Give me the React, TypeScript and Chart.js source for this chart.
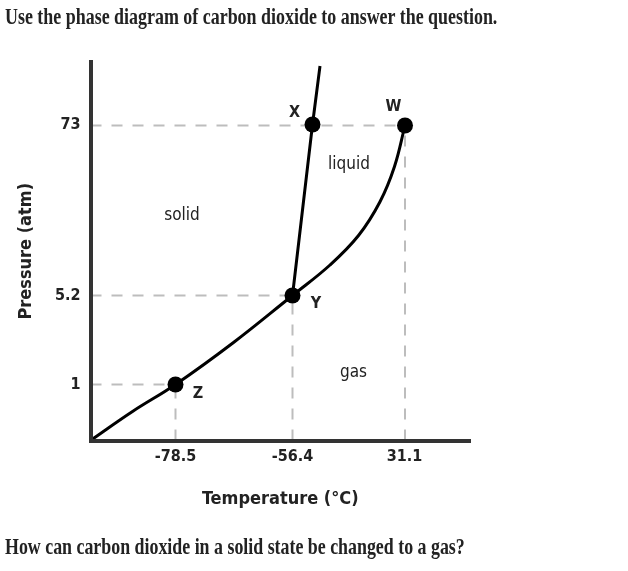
import React, { useEffect, useLayoutEffect, useRef, useState } from 'react';
import { Chart, registerables } from 'chart.js';

Chart.register(...registerables);

const titleText = 'Use the phase diagram of carbon dioxide to answer the question.';
const questionText = 'How can carbon dioxide in a solid state be changed to a gas?';
const xAxisTitle = 'Temperature (°C)';
const yAxisTitle = 'Pressure (atm)';

// schematic (non-proportional) diagram units along each axis
const xAxisMax = 37.95;
const yAxisMax = 37.85;
const tempTickLabels = ['-78.5', '-56.4', '31.1'];
const tempTickPos = [8.5, 20.2, 31.4];
const pressTickLabels = ['1', '5.2', '73'];
const pressTickPos = [5.6, 14.5, 31.6];

const keyNames = ['Z', 'Y', 'X', 'W'];
const keyX = [8.5, 20.2, 22.2, 31.45];
const keyY = [5.6, 14.5, 31.6, 31.5];
const guideKeys = [0, 1, 3];

const sublimationX = [0, 4.2, 8.5, 14.3, 20.2];
const sublimationY = [0, 2.9, 5.6, 9.8, 14.5];
const meltingX = [20.2, 22.2, 22.95];
const meltingY = [14.5, 31.6, 37.45];
const vaporizationX = [20.2, 23.95, 26.8, 28.95, 30.4, 31.45];
const vaporizationY = [14.5, 17.55, 20.5, 23.88, 27.4, 31.5];

const regionNames = ['solid', 'liquid', 'gas'];
const regionX = [9.15, 25.85, 26.3];
const regionY = [22.45, 27.55, 6.8];

const FONT = '"DejaVu Sans Condensed", "DejaVu Sans", sans-serif';
const TEXT = '#222';
const keyLabelOffsets: [number, number][] = [
  [22.5, 9],
  [23.5, 8.5],
  [-18, -12],
  [-11.5, -19],
];

const toPts = (xs: number[], ys: number[]) => xs.map((x, i) => ({ x, y: ys[i] }));

const labelPlugin = {
  id: 'phaseLabels',
  afterDatasetsDraw(chart: any) {
    const { ctx } = chart;
    const xs = chart.scales.x;
    const ys = chart.scales.y;
    ctx.save();
    ctx.fillStyle = TEXT;
    ctx.textAlign = 'center';
    ctx.textBaseline = 'middle';
    ctx.font = `bold 16px ${FONT}`;
    keyNames.forEach((n, i) => {
      const [dx, dy] = keyLabelOffsets[i];
      ctx.fillText(n, xs.getPixelForValue(keyX[i]) + dx, ys.getPixelForValue(keyY[i]) + dy);
    });
    ctx.font = `17px ${FONT}`;
    regionNames.forEach((n, i) => {
      ctx.fillText(n, xs.getPixelForValue(regionX[i]), ys.getPixelForValue(regionY[i]));
    });
    ctx.restore();
  },
};

function FitLine({ text, top, width }: { text: string; top: number; width: number }) {
  const ref = useRef<HTMLSpanElement>(null);
  const [sx, setSx] = useState(1);
  useLayoutEffect(() => {
    if (ref.current) {
      const w = ref.current.offsetWidth;
      if (w) setSx(width / w);
    }
  }, [text, width]);
  return (
    <span
      ref={ref}
      style={{
        position: 'absolute',
        left: 5,
        top,
        display: 'inline-block',
        fontFamily: '"Liberation Serif", "Times New Roman", serif',
        fontWeight: 'bold',
        fontSize: 23,
        lineHeight: '26px',
        whiteSpace: 'nowrap',
        color: TEXT,
        transform: `scaleX(${sx})`,
        transformOrigin: '0 0',
      }}
    >
      {text}
    </span>
  );
}

export default function App() {
  const canvasRef = useRef<HTMLCanvasElement>(null);

  useEffect(() => {
    if (!canvasRef.current) return;
    const guideStyle = {
      showLine: true,
      pointRadius: 0,
      borderColor: '#bdbdbd',
      borderWidth: 2,
      borderDash: [11, 10],
      fill: false,
    };
    const curveStyle = {
      showLine: true,
      pointRadius: 0,
      borderColor: '#000',
      borderWidth: 3,
      fill: false,
    };
    const guides = guideKeys.flatMap((k) => [
      { ...guideStyle, data: [{ x: 0, y: keyY[k] }, { x: keyX[k], y: keyY[k] }] },
      { ...guideStyle, data: [{ x: keyX[k], y: 0 }, { x: keyX[k], y: keyY[k] }] },
    ]);
    const chart = new Chart(canvasRef.current, {
      type: 'scatter',
      data: {
        datasets: [
          {
            data: toPts(keyX, keyY),
            pointRadius: 8,
            pointBackgroundColor: '#000',
            pointBorderColor: '#000',
            pointBorderWidth: 0,
            showLine: false,
          },
          { ...curveStyle, data: toPts(meltingX, meltingY), tension: 0 },
          { ...curveStyle, data: toPts(vaporizationX, vaporizationY), tension: 0.4 },
          { ...curveStyle, data: toPts(sublimationX, sublimationY), tension: 0.4 },
          ...guides,
        ] as any,
      },
      options: {
        animation: false,
        responsive: false,
        events: [],
        layout: { padding: { left: 0, top: 62, right: 158, bottom: 56.5 } },
        plugins: { legend: { display: false }, tooltip: { enabled: false } },
        scales: {
          x: {
            type: 'linear',
            min: 0,
            max: xAxisMax,
            afterFit: (s: any) => {
              s.height = 74;
            },
            afterBuildTicks: (s: any) => {
              s.ticks = tempTickPos.map((v) => ({ value: v }));
            },
            grid: { display: false, drawTicks: false },
            border: { display: true, color: '#333', width: 4, z: 1 },
            ticks: {
              autoSkip: false,
              maxRotation: 0,
              padding: 7,
              color: TEXT,
              font: { family: FONT, size: 16, weight: 'bold' },
              callback: (_v: any, i: number) => tempTickLabels[i],
            },
            title: {
              display: true,
              text: xAxisTitle,
              color: TEXT,
              font: { family: FONT, size: 18, weight: 'bold' },
              padding: { top: 4, bottom: 4 },
            },
          },
          y: {
            type: 'linear',
            min: 0,
            max: yAxisMax,
            afterFit: (s: any) => {
              s.width = 90.5;
            },
            afterBuildTicks: (s: any) => {
              s.ticks = pressTickPos.map((v) => ({ value: v }));
            },
            grid: { display: false, drawTicks: false },
            border: { display: true, color: '#333', width: 4, z: 1 },
            ticks: {
              autoSkip: false,
              padding: 10,
              color: TEXT,
              font: { family: FONT, size: 16, weight: 'bold' },
              callback: (_v: any, i: number) => pressTickLabels[i],
            },
            title: {
              display: true,
              text: yAxisTitle,
              color: TEXT,
              font: { family: FONT, size: 18, weight: 'bold' },
              padding: { top: 16, bottom: 4 },
            },
          },
        },
      } as any,
      plugins: [labelPlugin],
    });
    return () => chart.destroy();
  }, []);

  return (
    <div
      style={{
        position: 'fixed',
        left: 0,
        top: 0,
        width: 628,
        height: 571,
        background: '#fff',
        overflow: 'hidden',
      }}
    >
      <canvas
        ref={canvasRef}
        width={628}
        height={571}
        style={{ position: 'absolute', left: 0, top: 0, width: 628, height: 571 }}
      />
      <FitLine text={titleText} top={4} width={492} />
      <FitLine text={questionText} top={534} width={460} />
    </div>
  );
}
